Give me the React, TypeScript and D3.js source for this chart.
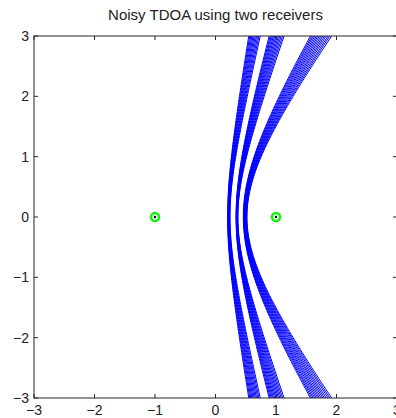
import React from "react";
import * as d3 from "d3";

// each hyperbola: vertex a (half range difference) and focus c, measured from the band's centre
const band1A = [0.2, 0.204, 0.208, 0.212, 0.216, 0.22, 0.224, 0.228, 0.232, 0.236, 0.24];
const band1C = [1.188, 1.175, 1.162, 1.148, 1.135, 1.122, 1.109, 1.096, 1.082, 1.069, 1.056];
const band2A = [0.34, 0.3425, 0.345, 0.3475, 0.35, 0.3525, 0.355, 0.3575, 0.36, 0.3625, 0.365, 0.3675, 0.37];
const band2C = [1.29, 1.274, 1.258, 1.243, 1.227, 1.211, 1.195, 1.179, 1.163, 1.148, 1.132, 1.116, 1.1];
const band3A = [0.96, 0.9646, 0.9692, 0.9738, 0.9785, 0.983, 0.9877, 0.9923, 0.997, 1.0015, 1.006, 1.011, 1.0155, 1.02];
const band3C = [1.841, 1.832, 1.824, 1.815, 1.806, 1.797, 1.789, 1.78, 1.771, 1.763, 1.754, 1.745, 1.737, 1.728];
const bandCenters = [0, 0, -0.5];

const receiversX = [-1, 1];
const receiversY = [0, 0];

const xTicks = [-3, -2, -1, 0, 1, 2, 3];
const yTicks = [-3, -2, -1, 0, 1, 2, 3];

const W = 396;
const H = 418;
const left = 34, right = 397, top = 36, bottom = 398;

const fmt = (v: number) => (v < 0 ? "\u2212" + Math.abs(v) : String(v));

export default function App() {
  const x = d3.scaleLinear().domain([-3, 3]).range([left, right]);
  const y = d3.scaleLinear().domain([-3, 3]).range([bottom, top]);

  const ys = d3.range(-3.2, 3.2001, 0.05);
  const line = d3
    .line<number>()
    .x((v) => v)
    .y((_, i) => y(ys[i]));

  // right branch of hyperbola centred at x0, vertex a, foci at x0 +/- c
  const branch = (x0: number, a: number, c: number) => {
    const b2 = c * c - a * a;
    const xs = ys.map((t) => x(x0 + a * Math.sqrt(1 + (t * t) / b2)));
    return line(xs) || "";
  };

  const bands = [
    [band1A, band1C],
    [band2A, band2C],
    [band3A, band3C],
  ];
  const curves: [number, number, number][] = [];
  bands.forEach(([as, cs], k) => {
    as.forEach((a, i) => curves.push([bandCenters[k], a, cs[i]]));
  });

  const font = "'Liberation Sans', Arial, Helvetica, sans-serif";
  const axisCol = "#262626";

  return (
    <svg
      width={W}
      height={H}
      style={{ position: "absolute", left: 0, top: 0, background: "#fff" }}
      fontFamily={font}
    >
      <rect x={0} y={0} width={W} height={H} fill="#fff" />
      <defs>
        <clipPath id="plotArea">
          <rect x={left} y={top} width={right - left} height={bottom - top} />
        </clipPath>
      </defs>

      <g clipPath="url(#plotArea)">
        {curves.map(([x0, a, c], i) => (
          <path key={i} d={branch(x0, a, c)} fill="none" stroke="#0000ff" strokeWidth={1} />
        ))}
      </g>

      {receiversX.map((rx, i) => (
        <g key={"r" + i}>
          <circle cx={x(rx)} cy={y(receiversY[i])} r={4} fill="none" stroke="#14f014" strokeWidth={2.6} />
          <circle cx={x(rx)} cy={y(receiversY[i])} r={1.2} fill="#000" />
        </g>
      ))}

      {/* axes box */}
      <rect
        x={left}
        y={top}
        width={right - left}
        height={bottom - top}
        fill="none"
        stroke={axisCol}
        strokeWidth={1}
      />

      {xTicks.map((t) => (
        <g key={"x" + t}>
          <line x1={x(t)} x2={x(t)} y1={bottom} y2={bottom - 4} stroke={axisCol} />
          <line x1={x(t)} x2={x(t)} y1={top} y2={top + 4} stroke={axisCol} />
          <text x={x(t)} y={bottom + 17} textAnchor="middle" fontSize={14} fill="#222">
            {fmt(t)}
          </text>
        </g>
      ))}

      {yTicks.map((t) => (
        <g key={"y" + t}>
          <line x1={left} x2={left + 4} y1={y(t)} y2={y(t)} stroke={axisCol} />
          <line x1={right} x2={right - 4} y1={y(t)} y2={y(t)} stroke={axisCol} />
          <text x={left - 5} y={y(t) + 5} textAnchor="end" fontSize={14} fill="#222">
            {fmt(t)}
          </text>
        </g>
      ))}

      <text x={(left + right) / 2} y={20} textAnchor="middle" fontSize={15} fill="#222">
        Noisy TDOA using two receivers
      </text>
    </svg>
  );
}
